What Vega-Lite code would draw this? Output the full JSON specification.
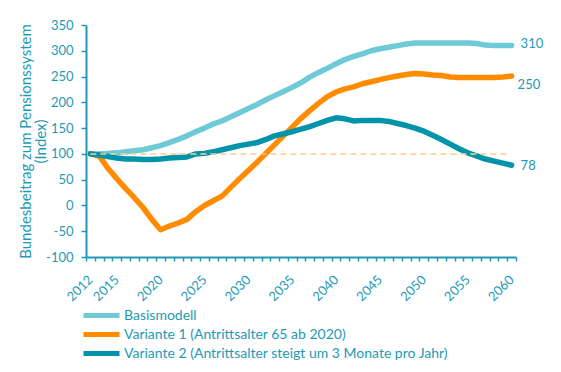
{
  "$schema": "https://vega.github.io/schema/vega-lite/v6.json",
  "width": 430,
  "height": 232,
  "autosize": "none",
  "padding": {"left": 86, "top": 25, "right": 45, "bottom": 115},
  "background": "white",
  "config": {
    "view": {"stroke": null},
    "font": "Lato",
    "axis": {
      "labelFont": "Lato", "titleFont": "Lato",
      "labelColor": "#1E9AB4", "titleColor": "#1E9AB4",
      "domainColor": "#1E9AB4", "tickColor": "#1E9AB4",
      "domainWidth": 2, "tickWidth": 1.5, "grid": false,
      "labelFontSize": 13, "titleFontSize": 15, "titleFontWeight": "normal",
      "labelOverlap": false
    },
    "axisQuantitative": {"labelOverlap": false},
    "legend": {"labelFont": "Lato"}
  },
  "datasets": {
    "lines": [
      {"year": 2012, "series": "Basismodell", "value": 100},
      {"year": 2013, "series": "Basismodell", "value": 100},
      {"year": 2014, "series": "Basismodell", "value": 101},
      {"year": 2015, "series": "Basismodell", "value": 102},
      {"year": 2016, "series": "Basismodell", "value": 104},
      {"year": 2017, "series": "Basismodell", "value": 106},
      {"year": 2018, "series": "Basismodell", "value": 108},
      {"year": 2019, "series": "Basismodell", "value": 112},
      {"year": 2020, "series": "Basismodell", "value": 116},
      {"year": 2021, "series": "Basismodell", "value": 122},
      {"year": 2022, "series": "Basismodell", "value": 128},
      {"year": 2023, "series": "Basismodell", "value": 135},
      {"year": 2024, "series": "Basismodell", "value": 143},
      {"year": 2025, "series": "Basismodell", "value": 150},
      {"year": 2026, "series": "Basismodell", "value": 158},
      {"year": 2027, "series": "Basismodell", "value": 164},
      {"year": 2028, "series": "Basismodell", "value": 172},
      {"year": 2029, "series": "Basismodell", "value": 180},
      {"year": 2030, "series": "Basismodell", "value": 188},
      {"year": 2031, "series": "Basismodell", "value": 196},
      {"year": 2032, "series": "Basismodell", "value": 205},
      {"year": 2033, "series": "Basismodell", "value": 213},
      {"year": 2034, "series": "Basismodell", "value": 221},
      {"year": 2035, "series": "Basismodell", "value": 229},
      {"year": 2036, "series": "Basismodell", "value": 238},
      {"year": 2037, "series": "Basismodell", "value": 249},
      {"year": 2038, "series": "Basismodell", "value": 258},
      {"year": 2039, "series": "Basismodell", "value": 266},
      {"year": 2040, "series": "Basismodell", "value": 275},
      {"year": 2041, "series": "Basismodell", "value": 283},
      {"year": 2042, "series": "Basismodell", "value": 289},
      {"year": 2043, "series": "Basismodell", "value": 294},
      {"year": 2044, "series": "Basismodell", "value": 300},
      {"year": 2045, "series": "Basismodell", "value": 304},
      {"year": 2046, "series": "Basismodell", "value": 307},
      {"year": 2047, "series": "Basismodell", "value": 310},
      {"year": 2048, "series": "Basismodell", "value": 313},
      {"year": 2049, "series": "Basismodell", "value": 315},
      {"year": 2050, "series": "Basismodell", "value": 315},
      {"year": 2051, "series": "Basismodell", "value": 315},
      {"year": 2052, "series": "Basismodell", "value": 315},
      {"year": 2053, "series": "Basismodell", "value": 315},
      {"year": 2054, "series": "Basismodell", "value": 315},
      {"year": 2055, "series": "Basismodell", "value": 315},
      {"year": 2056, "series": "Basismodell", "value": 314},
      {"year": 2057, "series": "Basismodell", "value": 311},
      {"year": 2058, "series": "Basismodell", "value": 310},
      {"year": 2059, "series": "Basismodell", "value": 310},
      {"year": 2060, "series": "Basismodell", "value": 310},
      {"year": 2012, "series": "Variante 1 (Antrittsalter 65 ab 2020)", "value": 100},
      {"year": 2013, "series": "Variante 1 (Antrittsalter 65 ab 2020)", "value": 96},
      {"year": 2014, "series": "Variante 1 (Antrittsalter 65 ab 2020)", "value": 72},
      {"year": 2015, "series": "Variante 1 (Antrittsalter 65 ab 2020)", "value": 52},
      {"year": 2016, "series": "Variante 1 (Antrittsalter 65 ab 2020)", "value": 33},
      {"year": 2017, "series": "Variante 1 (Antrittsalter 65 ab 2020)", "value": 15},
      {"year": 2018, "series": "Variante 1 (Antrittsalter 65 ab 2020)", "value": -4},
      {"year": 2019, "series": "Variante 1 (Antrittsalter 65 ab 2020)", "value": -27},
      {"year": 2020, "series": "Variante 1 (Antrittsalter 65 ab 2020)", "value": -47},
      {"year": 2021, "series": "Variante 1 (Antrittsalter 65 ab 2020)", "value": -40},
      {"year": 2022, "series": "Variante 1 (Antrittsalter 65 ab 2020)", "value": -34},
      {"year": 2023, "series": "Variante 1 (Antrittsalter 65 ab 2020)", "value": -27},
      {"year": 2024, "series": "Variante 1 (Antrittsalter 65 ab 2020)", "value": -12},
      {"year": 2025, "series": "Variante 1 (Antrittsalter 65 ab 2020)", "value": 0},
      {"year": 2026, "series": "Variante 1 (Antrittsalter 65 ab 2020)", "value": 9},
      {"year": 2027, "series": "Variante 1 (Antrittsalter 65 ab 2020)", "value": 18},
      {"year": 2028, "series": "Variante 1 (Antrittsalter 65 ab 2020)", "value": 35},
      {"year": 2029, "series": "Variante 1 (Antrittsalter 65 ab 2020)", "value": 52},
      {"year": 2030, "series": "Variante 1 (Antrittsalter 65 ab 2020)", "value": 68},
      {"year": 2031, "series": "Variante 1 (Antrittsalter 65 ab 2020)", "value": 84},
      {"year": 2032, "series": "Variante 1 (Antrittsalter 65 ab 2020)", "value": 101},
      {"year": 2033, "series": "Variante 1 (Antrittsalter 65 ab 2020)", "value": 118},
      {"year": 2034, "series": "Variante 1 (Antrittsalter 65 ab 2020)", "value": 135},
      {"year": 2035, "series": "Variante 1 (Antrittsalter 65 ab 2020)", "value": 152},
      {"year": 2036, "series": "Variante 1 (Antrittsalter 65 ab 2020)", "value": 169},
      {"year": 2037, "series": "Variante 1 (Antrittsalter 65 ab 2020)", "value": 184},
      {"year": 2038, "series": "Variante 1 (Antrittsalter 65 ab 2020)", "value": 198},
      {"year": 2039, "series": "Variante 1 (Antrittsalter 65 ab 2020)", "value": 211},
      {"year": 2040, "series": "Variante 1 (Antrittsalter 65 ab 2020)", "value": 220},
      {"year": 2041, "series": "Variante 1 (Antrittsalter 65 ab 2020)", "value": 226},
      {"year": 2042, "series": "Variante 1 (Antrittsalter 65 ab 2020)", "value": 230},
      {"year": 2043, "series": "Variante 1 (Antrittsalter 65 ab 2020)", "value": 236},
      {"year": 2044, "series": "Variante 1 (Antrittsalter 65 ab 2020)", "value": 240},
      {"year": 2045, "series": "Variante 1 (Antrittsalter 65 ab 2020)", "value": 244},
      {"year": 2046, "series": "Variante 1 (Antrittsalter 65 ab 2020)", "value": 248},
      {"year": 2047, "series": "Variante 1 (Antrittsalter 65 ab 2020)", "value": 251},
      {"year": 2048, "series": "Variante 1 (Antrittsalter 65 ab 2020)", "value": 254},
      {"year": 2049, "series": "Variante 1 (Antrittsalter 65 ab 2020)", "value": 256},
      {"year": 2050, "series": "Variante 1 (Antrittsalter 65 ab 2020)", "value": 255},
      {"year": 2051, "series": "Variante 1 (Antrittsalter 65 ab 2020)", "value": 253},
      {"year": 2052, "series": "Variante 1 (Antrittsalter 65 ab 2020)", "value": 252},
      {"year": 2053, "series": "Variante 1 (Antrittsalter 65 ab 2020)", "value": 249},
      {"year": 2054, "series": "Variante 1 (Antrittsalter 65 ab 2020)", "value": 248},
      {"year": 2055, "series": "Variante 1 (Antrittsalter 65 ab 2020)", "value": 248},
      {"year": 2056, "series": "Variante 1 (Antrittsalter 65 ab 2020)", "value": 248},
      {"year": 2057, "series": "Variante 1 (Antrittsalter 65 ab 2020)", "value": 248},
      {"year": 2058, "series": "Variante 1 (Antrittsalter 65 ab 2020)", "value": 248},
      {"year": 2059, "series": "Variante 1 (Antrittsalter 65 ab 2020)", "value": 249},
      {"year": 2060, "series": "Variante 1 (Antrittsalter 65 ab 2020)", "value": 251},
      {"year": 2012, "series": "Variante 2 (Antrittsalter steigt um 3 Monate pro Jahr)", "value": 100},
      {"year": 2013, "series": "Variante 2 (Antrittsalter steigt um 3 Monate pro Jahr)", "value": 98},
      {"year": 2014, "series": "Variante 2 (Antrittsalter steigt um 3 Monate pro Jahr)", "value": 95},
      {"year": 2015, "series": "Variante 2 (Antrittsalter steigt um 3 Monate pro Jahr)", "value": 92},
      {"year": 2016, "series": "Variante 2 (Antrittsalter steigt um 3 Monate pro Jahr)", "value": 90},
      {"year": 2017, "series": "Variante 2 (Antrittsalter steigt um 3 Monate pro Jahr)", "value": 90},
      {"year": 2018, "series": "Variante 2 (Antrittsalter steigt um 3 Monate pro Jahr)", "value": 89},
      {"year": 2019, "series": "Variante 2 (Antrittsalter steigt um 3 Monate pro Jahr)", "value": 89},
      {"year": 2020, "series": "Variante 2 (Antrittsalter steigt um 3 Monate pro Jahr)", "value": 90},
      {"year": 2021, "series": "Variante 2 (Antrittsalter steigt um 3 Monate pro Jahr)", "value": 92},
      {"year": 2022, "series": "Variante 2 (Antrittsalter steigt um 3 Monate pro Jahr)", "value": 93},
      {"year": 2023, "series": "Variante 2 (Antrittsalter steigt um 3 Monate pro Jahr)", "value": 94},
      {"year": 2024, "series": "Variante 2 (Antrittsalter steigt um 3 Monate pro Jahr)", "value": 100},
      {"year": 2025, "series": "Variante 2 (Antrittsalter steigt um 3 Monate pro Jahr)", "value": 101},
      {"year": 2026, "series": "Variante 2 (Antrittsalter steigt um 3 Monate pro Jahr)", "value": 104},
      {"year": 2027, "series": "Variante 2 (Antrittsalter steigt um 3 Monate pro Jahr)", "value": 108},
      {"year": 2028, "series": "Variante 2 (Antrittsalter steigt um 3 Monate pro Jahr)", "value": 112},
      {"year": 2029, "series": "Variante 2 (Antrittsalter steigt um 3 Monate pro Jahr)", "value": 116},
      {"year": 2030, "series": "Variante 2 (Antrittsalter steigt um 3 Monate pro Jahr)", "value": 119},
      {"year": 2031, "series": "Variante 2 (Antrittsalter steigt um 3 Monate pro Jahr)", "value": 122},
      {"year": 2032, "series": "Variante 2 (Antrittsalter steigt um 3 Monate pro Jahr)", "value": 128},
      {"year": 2033, "series": "Variante 2 (Antrittsalter steigt um 3 Monate pro Jahr)", "value": 135},
      {"year": 2034, "series": "Variante 2 (Antrittsalter steigt um 3 Monate pro Jahr)", "value": 139},
      {"year": 2035, "series": "Variante 2 (Antrittsalter steigt um 3 Monate pro Jahr)", "value": 143},
      {"year": 2036, "series": "Variante 2 (Antrittsalter steigt um 3 Monate pro Jahr)", "value": 148},
      {"year": 2037, "series": "Variante 2 (Antrittsalter steigt um 3 Monate pro Jahr)", "value": 153},
      {"year": 2038, "series": "Variante 2 (Antrittsalter steigt um 3 Monate pro Jahr)", "value": 159},
      {"year": 2039, "series": "Variante 2 (Antrittsalter steigt um 3 Monate pro Jahr)", "value": 165},
      {"year": 2040, "series": "Variante 2 (Antrittsalter steigt um 3 Monate pro Jahr)", "value": 170},
      {"year": 2041, "series": "Variante 2 (Antrittsalter steigt um 3 Monate pro Jahr)", "value": 168},
      {"year": 2042, "series": "Variante 2 (Antrittsalter steigt um 3 Monate pro Jahr)", "value": 164},
      {"year": 2043, "series": "Variante 2 (Antrittsalter steigt um 3 Monate pro Jahr)", "value": 165},
      {"year": 2044, "series": "Variante 2 (Antrittsalter steigt um 3 Monate pro Jahr)", "value": 165},
      {"year": 2045, "series": "Variante 2 (Antrittsalter steigt um 3 Monate pro Jahr)", "value": 165},
      {"year": 2046, "series": "Variante 2 (Antrittsalter steigt um 3 Monate pro Jahr)", "value": 163},
      {"year": 2047, "series": "Variante 2 (Antrittsalter steigt um 3 Monate pro Jahr)", "value": 159},
      {"year": 2048, "series": "Variante 2 (Antrittsalter steigt um 3 Monate pro Jahr)", "value": 155},
      {"year": 2049, "series": "Variante 2 (Antrittsalter steigt um 3 Monate pro Jahr)", "value": 150},
      {"year": 2050, "series": "Variante 2 (Antrittsalter steigt um 3 Monate pro Jahr)", "value": 144},
      {"year": 2051, "series": "Variante 2 (Antrittsalter steigt um 3 Monate pro Jahr)", "value": 136},
      {"year": 2052, "series": "Variante 2 (Antrittsalter steigt um 3 Monate pro Jahr)", "value": 128},
      {"year": 2053, "series": "Variante 2 (Antrittsalter steigt um 3 Monate pro Jahr)", "value": 119},
      {"year": 2054, "series": "Variante 2 (Antrittsalter steigt um 3 Monate pro Jahr)", "value": 110},
      {"year": 2055, "series": "Variante 2 (Antrittsalter steigt um 3 Monate pro Jahr)", "value": 102},
      {"year": 2056, "series": "Variante 2 (Antrittsalter steigt um 3 Monate pro Jahr)", "value": 96},
      {"year": 2057, "series": "Variante 2 (Antrittsalter steigt um 3 Monate pro Jahr)", "value": 90},
      {"year": 2058, "series": "Variante 2 (Antrittsalter steigt um 3 Monate pro Jahr)", "value": 86},
      {"year": 2059, "series": "Variante 2 (Antrittsalter steigt um 3 Monate pro Jahr)", "value": 82},
      {"year": 2060, "series": "Variante 2 (Antrittsalter steigt um 3 Monate pro Jahr)", "value": 78}
    ]
  },
  "encoding": {
    "x": {
      "field": "year", "type": "quantitative",
      "scale": {"domain": [2011.5, 2060.5], "nice": false, "zero": false},
      "axis": {
        "title": null,
        "values": [2011.5,2012.5,2013.5,2014.5,2015.5,2016.5,2017.5,2018.5,2019.5,2020.5,2021.5,2022.5,2023.5,2024.5,2025.5,2026.5,2027.5,2028.5,2029.5,2030.5,2031.5,2032.5,2033.5,2034.5,2035.5,2036.5,2037.5,2038.5,2039.5,2040.5,2041.5,2042.5,2043.5,2044.5,2045.5,2046.5,2047.5,2048.5,2049.5,2050.5,2051.5,2052.5,2053.5,2054.5,2055.5,2056.5,2057.5,2058.5,2059.5,2060.5],
        "labelExpr": "indexof([2012,2015,2020,2025,2030,2035,2040,2045,2050,2055,2060], datum.value + 0.5) >= 0 ? '' + (datum.value + 0.5) : ''",
        "labelOffset": 0,
        "labelAngle": -45,
        "labelOverlap": false,
        "labelBound": false,
        "labelFlush": false,
        "tickSize": 4,
        "labelPadding": 12
      }
    },
    "y": {
      "field": "value", "type": "quantitative",
      "scale": {"domain": [-100, 350], "nice": false, "zero": false},
      "axis": {
        "title": ["Bundesbeitrag zum Pensionssystem", "(Index)"],
        "values": [-100, -50, 0, 50, 100, 150, 200, 250, 300, 350],
        "labelExpr": "'' + datum.value",
        "labelOverlap": false,
        "tickSize": 5,
        "labelPadding": 8,
        "titlePadding": -3,
        "titleLineHeight": 15
      }
    }
  },
  "layer": [
    {
      "data": {"name": "lines"},
      "mark": {"type": "line", "strokeWidth": 5.5, "strokeJoin": "round", "strokeCap": "round"},
      "encoding": {
        "color": {
          "field": "series", "type": "nominal",
          "scale": {"range": ["#6DCAD6", "#FF8C00", "#0093A9"]},
          "legend": {
            "title": null,
            "orient": "none",
            "legendX": 7,
            "legendY": 282,
            "padding": 0,
            "symbolType": "M-3,0H3",
            "symbolSize": 144,
            "symbolStrokeWidth": 5,
            "labelOffset": 14,
            "labelFontSize": 14,
            "labelColor": "#1E9AB4",
            "labelLimit": 400,
            "rowPadding": -2
          }
        }
      }
    },
    {
      "data": {"values": [{"year": 2012, "year_end": 2059.5, "value": 100}]},
      "mark": {"type": "rule", "color": "#FDCB8E", "strokeWidth": 1.5, "strokeDash": [6, 4]},
      "encoding": {
        "x2": {"field": "year_end"}
      }
    },
    {
      "data": {"values": [{"year": 2060, "value": 310, "label": "310"}]},
      "mark": {"type": "text", "align": "left", "dx": 9, "dy": -2, "fontSize": 13, "font": "Lato", "color": "#1E9AB4"},
      "encoding": {
        "text": {"field": "label"}
      }
    },
    {
      "data": {"values": [{"year": 2060, "value": 78, "label": "78"}]},
      "mark": {"type": "text", "align": "left", "dx": 9, "dy": 1, "fontSize": 13, "font": "Lato", "color": "#1E9AB4"},
      "encoding": {
        "text": {"field": "label"}
      }
    },
    {
      "data": {"values": [{"year": 2060, "value": 250, "label": "250"}]},
      "mark": {"type": "text", "align": "left", "dx": 6, "dy": 8, "fontSize": 13, "font": "Lato", "color": "#1E9AB4"},
      "encoding": {
        "text": {"field": "label"}
      }
    }
  ]
}
